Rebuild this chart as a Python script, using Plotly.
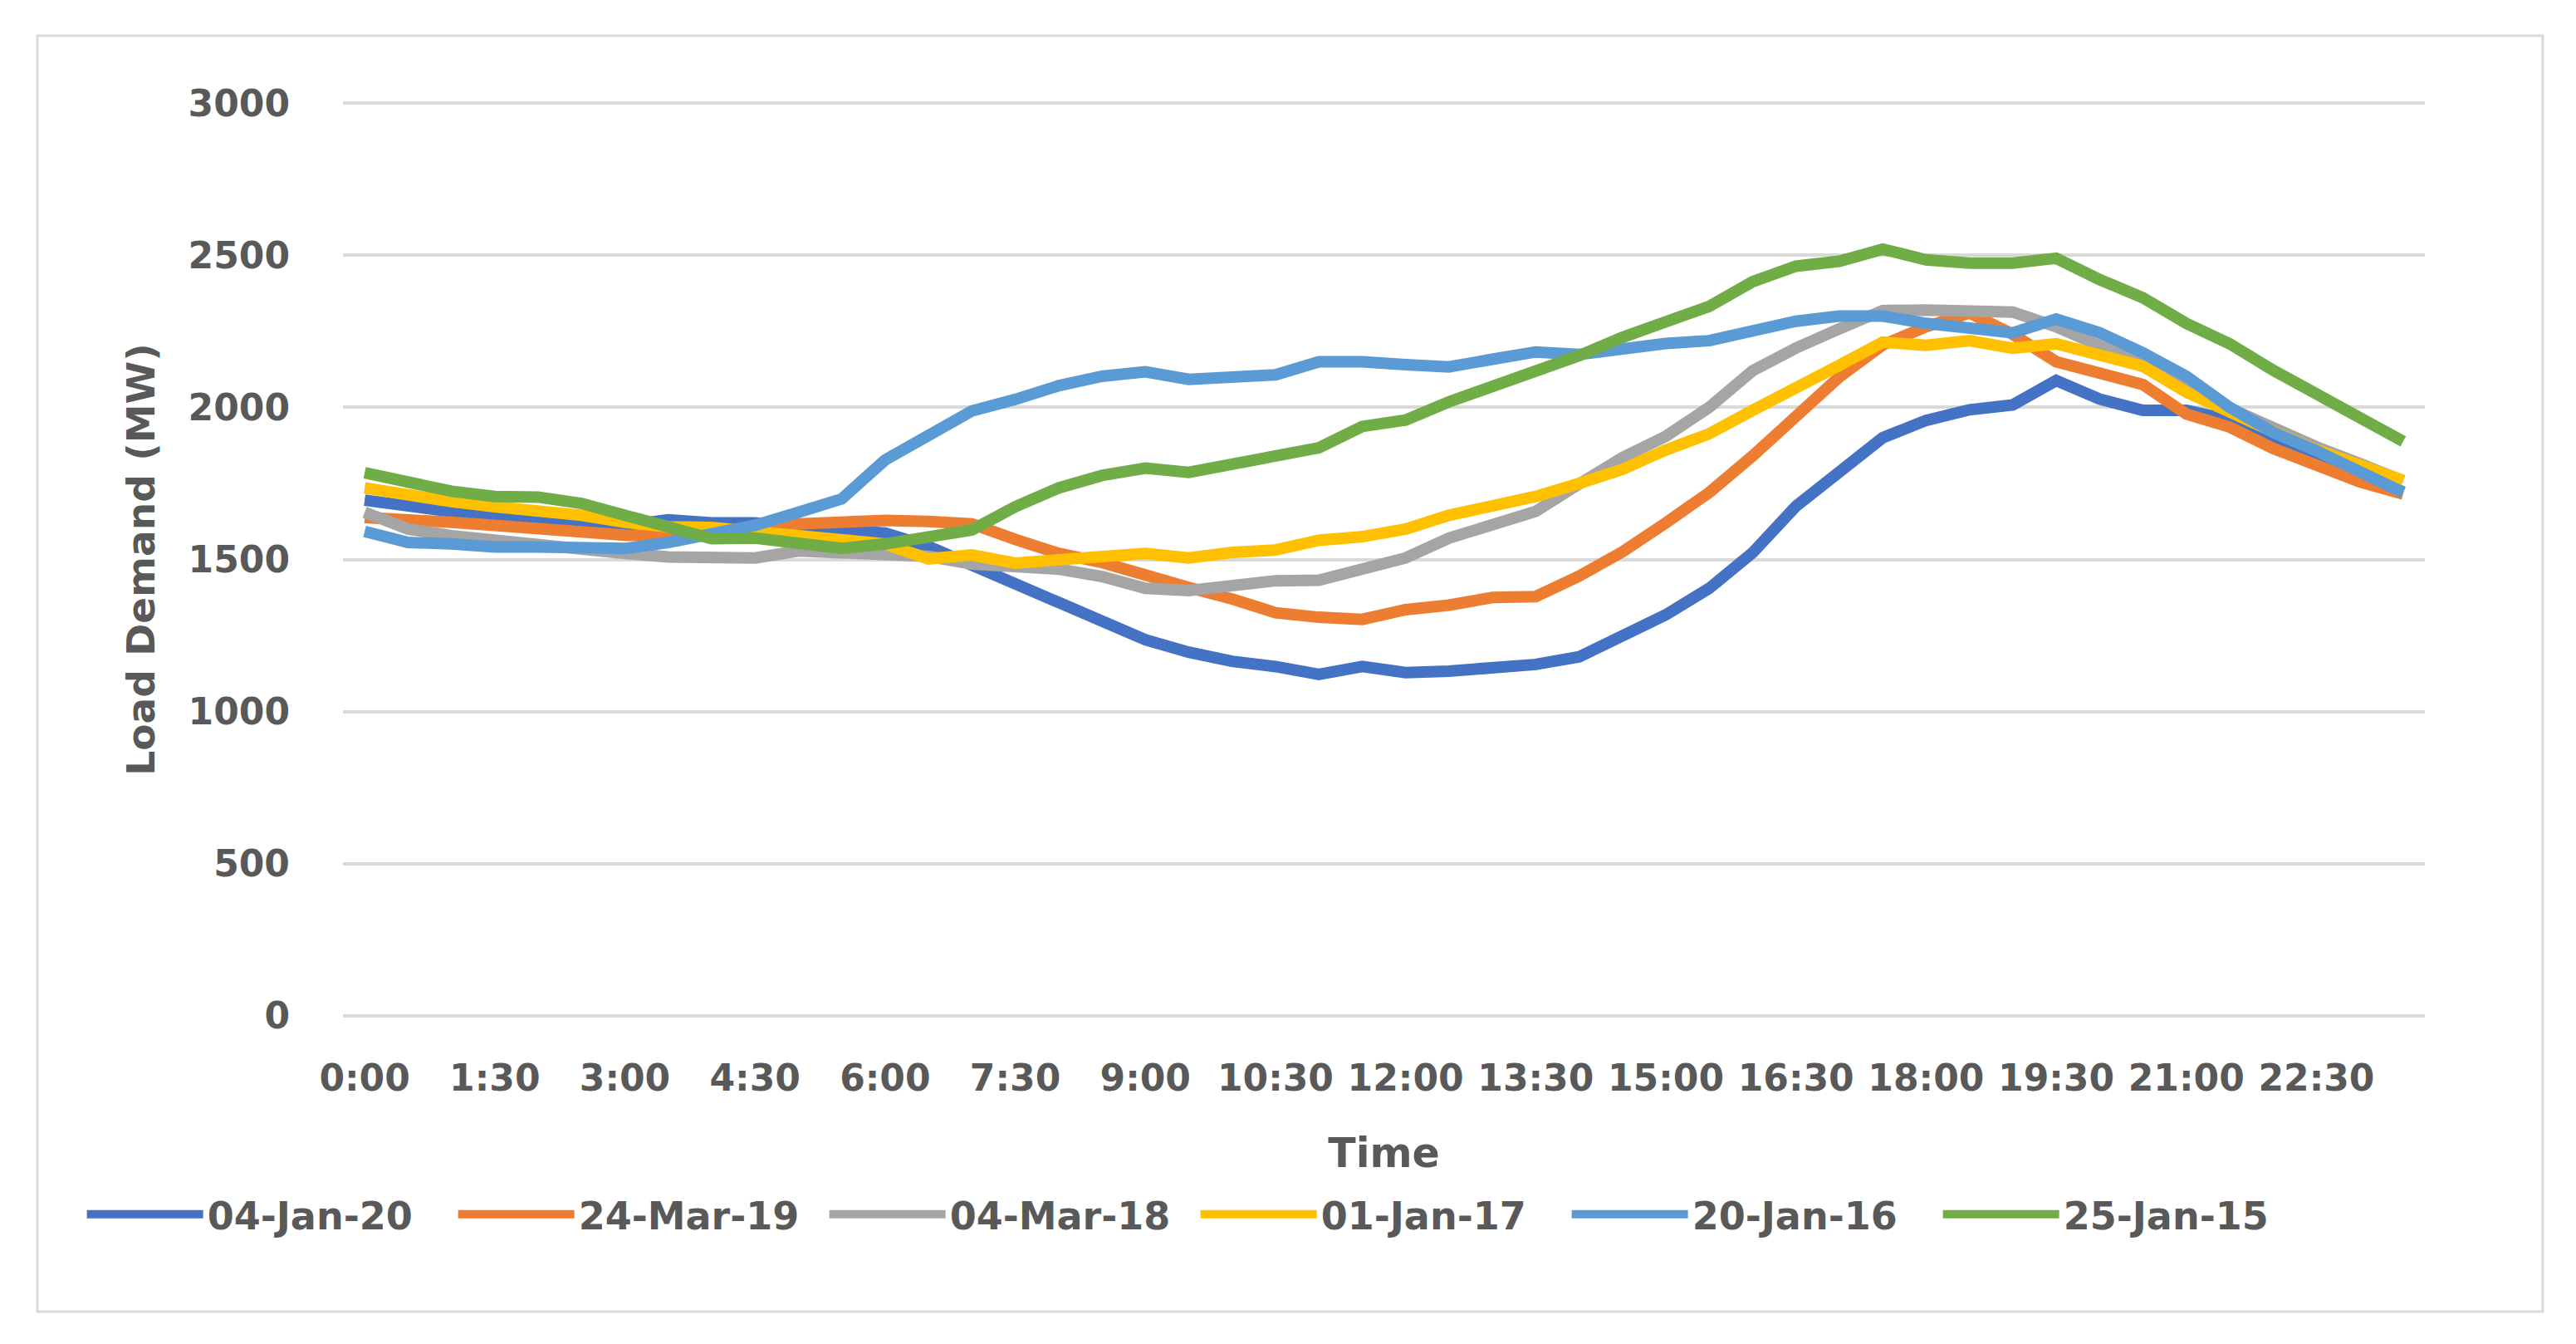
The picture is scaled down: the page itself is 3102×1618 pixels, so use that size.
import plotly.graph_objects as go

times = [f"{h}:{m:02d}" for h in range(24) for m in (0, 30)]
tick_labels = ["0:00", "1:30", "3:00", "4:30", "6:00", "7:30", "9:00", "10:30",
               "12:00", "13:30", "15:00", "16:30", "18:00", "19:30", "21:00", "22:30"]
y_ticks = [0, 500, 1000, 1500, 2000, 2500, 3000]

jan20 = [1695, 1672, 1657, 1640, 1625, 1615, 1612, 1630, 1620, 1620, 1605, 1597,
         1587, 1543, 1480, 1420, 1362, 1296, 1236, 1195, 1165, 1148, 1122, 1148,
         1128, 1133, 1148, 1155, 1180, 1250, 1318, 1405, 1522, 1675, 1786, 1900,
         1957, 1992, 2008, 2088, 2027, 1990, 1990, 1959, 1895, 1835, 1780, 1722]
mar19 = [1638, 1633, 1622, 1612, 1600, 1590, 1580, 1577, 1585, 1600, 1617, 1625,
         1628, 1625, 1617, 1566, 1520, 1490, 1444, 1408, 1370, 1325, 1310, 1303,
         1335, 1350, 1375, 1378, 1445, 1525, 1620, 1720, 1840, 1970, 2100, 2205,
         2265, 2310, 2240, 2150, 2115, 2075, 1978, 1935, 1865, 1810, 1755, 1715]
mar18 = [1655, 1600, 1578, 1562, 1550, 1538, 1520, 1508, 1505, 1505, 1528, 1522,
         1517, 1510, 1485, 1475, 1468, 1444, 1405, 1398, 1410, 1430, 1432, 1470,
         1505, 1570, 1615, 1658, 1748, 1835, 1905, 2000, 2120, 2195, 2258, 2318,
         2320, 2315, 2313, 2265, 2205, 2140, 2060, 1995, 1930, 1870, 1815, 1758]
jan17 = [1735, 1710, 1690, 1673, 1660, 1645, 1622, 1607, 1605, 1592, 1577, 1566,
         1551, 1502, 1515, 1488, 1500, 1505, 1520, 1505, 1523, 1531, 1563, 1575,
         1600, 1645, 1672, 1707, 1750, 1796, 1860, 1913, 1990, 2061, 2138, 2214,
         2204, 2219, 2194, 2209, 2175, 2135, 2050, 1982, 1920, 1860, 1806, 1760]
jan16 = [1592, 1556, 1551, 1541, 1541, 1536, 1536, 1556, 1587, 1612, 1655, 1699,
         1827, 1908, 1988, 2026, 2071, 2102, 2117, 2092, 2100, 2107, 2150, 2150,
         2140, 2133, 2158, 2182, 2174, 2194, 2210, 2219, 2250, 2283, 2300, 2300,
         2276, 2260, 2245, 2290, 2245, 2179, 2102, 2000, 1918, 1857, 1786, 1720]
jan15 = [1785, 1750, 1724, 1707, 1705, 1684, 1643, 1607, 1568, 1570, 1550, 1536,
         1551, 1577, 1597, 1673, 1735, 1776, 1800, 1786, 1815, 1835, 1867, 1937,
         1958, 2018, 2068, 2120, 2170, 2230, 2278, 2332, 2413, 2464, 2480, 2520,
         2485, 2474, 2474, 2490, 2420, 2360, 2276, 2209, 2122, 2041, 1964, 1888]

series_names = ["04-Jan-20", "24-Mar-19", "04-Mar-18", "01-Jan-17", "20-Jan-16", "25-Jan-15"]
series_values = [jan20, mar19, mar18, jan17, jan16, jan15]
colors = ["#4472C4", "#ED7D31", "#A5A5A5", "#FFC000", "#5B9BD5", "#70AD47"]

FONT = "DejaVu Sans"
TXT = "#595959"

fig = go.Figure()
for name, vals, col in zip(series_names, series_values, colors):
    fig.add_trace(go.Scatter(
        x=times, y=vals, name=name, mode="lines",
        line=dict(color=col, width=14),
    ))

fig.update_layout(
    width=3102, height=1618,
    margin=dict(l=405, r=190, t=115, b=402, autoexpand=False),
    paper_bgcolor="white", plot_bgcolor="white",
    font=dict(family=FONT, color=TXT, size=44, weight="bold"),
    showlegend=True,
    legend=dict(
        orientation="h", x=-0.125, xanchor="left", y=-0.216, yanchor="middle",
        font=dict(family=FONT, size=46, color=TXT, weight="bold"),
        entrywidth=292, entrywidthmode="pixels",
        itemwidth=140, tracegroupgap=0,
        bgcolor="rgba(0,0,0,0)",
    ),
    shapes=[dict(type="rect", xref="paper", yref="paper",
                 x0=-0.1468, x1=1.0566, y0=-0.3224, y1=1.0727,
                 line=dict(color="#D9D9D9", width=3), fillcolor="rgba(0,0,0,0)",
                 layer="below")],
)

fig.update_xaxes(
    type="category", categoryorder="array", categoryarray=times,
    range=[-0.5, 47.5],
    tickmode="array", tickvals=tick_labels, ticktext=tick_labels,
    showgrid=False, showline=False, zeroline=False, ticks="",
    tickfont=dict(family=FONT, size=44, color=TXT, weight="bold"),
    ticklabelstandoff=44,
    title=dict(text="Time", font=dict(family=FONT, size=49, color=TXT, weight="bold"), standoff=48),
)
fig.update_yaxes(
    range=[-3, 3003], tickmode="array", tickvals=y_ticks,
    showgrid=True, gridcolor="#D9D9D9", gridwidth=3.5,
    showline=False, zeroline=False, ticks="",
    tickfont=dict(family=FONT, size=44, color=TXT, weight="bold"),
    ticklabelstandoff=63,
    title=dict(text="Load Demand (MW)", font=dict(family=FONT, size=47, color=TXT, weight="bold"), standoff=25),
)

fig.write_html("out.html")
